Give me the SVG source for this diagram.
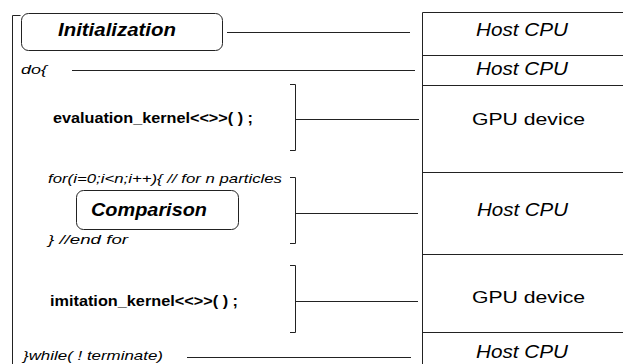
<svg xmlns="http://www.w3.org/2000/svg" width="623" height="364" viewBox="0 0 623 364">
<style>
.ln{stroke:#222;stroke-width:1;fill:none}
.box{stroke:#222;stroke-width:1;fill:#fff}
.t{font-family:"Liberation Sans",Arial,sans-serif;fill:#000}
.it{font-style:italic}
.b{font-weight:bold}
</style>
<rect width="623" height="364" fill="#fff"/>
<g id="frame">
<path class="ln" d="M20.5,15.5 H12.5 V364"/>
</g>
<g id="table">
<path class="ln" d="M422.5,12.5 H623 M422.5,12.5 V364 M422.5,55.5 H623 M422.5,85.5 H623 M422.5,172.5 H623 M422.5,254.5 H623 M422.5,332.5 H623"/>
<text class="t it" x="476" y="36" font-size="18" textLength="92" lengthAdjust="spacingAndGlyphs">Host CPU</text>
<text class="t it" x="476" y="75" font-size="18" textLength="92" lengthAdjust="spacingAndGlyphs">Host CPU</text>
<text class="t" x="472" y="125" font-size="17" textLength="113" lengthAdjust="spacingAndGlyphs">GPU device</text>
<text class="t it" x="477" y="216" font-size="18" textLength="91" lengthAdjust="spacingAndGlyphs">Host CPU</text>
<text class="t" x="472" y="303" font-size="17" textLength="113" lengthAdjust="spacingAndGlyphs">GPU device</text>
<text class="t it" x="476" y="358" font-size="18" textLength="92" lengthAdjust="spacingAndGlyphs">Host CPU</text>
</g>
<g id="init">
<rect class="box" x="21.5" y="13.5" width="201" height="37" rx="7"/>
<text class="t it b" x="58" y="36" font-size="18" textLength="118" lengthAdjust="spacingAndGlyphs">Initialization</text>
</g>
<g id="do">
<text class="t it" x="21" y="74" font-size="13" textLength="26" lengthAdjust="spacingAndGlyphs">do{</text>
</g>
<g id="eval">
<text class="t b" x="53" y="123" font-size="14" textLength="200" lengthAdjust="spacingAndGlyphs">evaluation_kernel&lt;&lt;&gt;&gt;( ) ;</text>
</g>
<g id="loop">
<text class="t it" x="48" y="183" font-size="13" textLength="234" lengthAdjust="spacingAndGlyphs">for(i=0;i&lt;n;i++){ // for n particles</text>
<text class="t it" x="48" y="244" font-size="13" textLength="80" lengthAdjust="spacingAndGlyphs">} //end for</text>
</g>
<g id="comparison">
<rect class="box" x="76.5" y="190.5" width="162" height="39" rx="7"/>
<text class="t it b" x="91" y="216" font-size="18" textLength="116" lengthAdjust="spacingAndGlyphs">Comparison</text>
</g>
<g id="imit">
<text class="t b" x="50" y="306" font-size="14" textLength="188" lengthAdjust="spacingAndGlyphs">imitation_kernel&lt;&lt;&gt;&gt;( ) ;</text>
</g>
<g id="while">
<text class="t it" x="23" y="360" font-size="13" textLength="140" lengthAdjust="spacingAndGlyphs">}while( ! terminate)</text>
</g>
<g id="connectors">
<path class="ln" d="M227,32.5 H410"/>
<path class="ln" d="M72,70.5 H415"/>
<path class="ln" d="M290,84.5 H295.5 V150.5 H290 M295.5,119.5 H419"/>
<path class="ln" d="M290,177.5 H295.5 V243.5 H290 M295.5,213.5 H418"/>
<path class="ln" d="M290,265.5 H295.5 V332.5 H290 M295.5,301.5 H418"/>
<path class="ln" d="M187,357.5 H411"/>
</g>
</svg>
